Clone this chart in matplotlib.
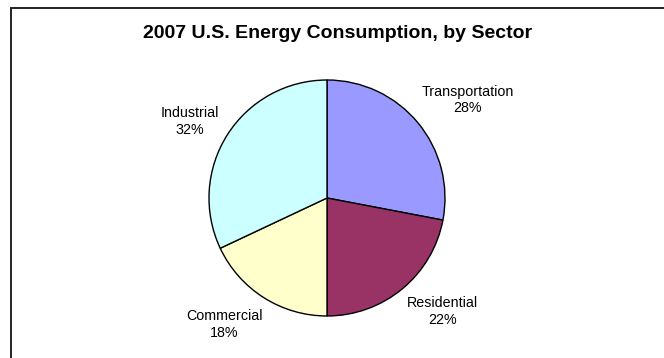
import numpy as np
import matplotlib
matplotlib.use("Agg")
import matplotlib.pyplot as plt
from matplotlib.patches import Rectangle

# data
sectors = ["Transportation", "Residential", "Commercial", "Industrial"]
shares = [28, 22, 18, 32]
colors = ["#9999FF", "#993366", "#FFFFCC", "#CCFFFF"]

# label positions relative to pie centre, in units of radius
label_pos = [(1.19, 0.83), (0.98, -0.96), (-0.87, -1.07), (-1.16, 0.65)]

plt.rcParams["font.family"] = ["Liberation Sans", "DejaVu Sans"]

W, H = 664, 358
fig = plt.figure(figsize=(W / 100, H / 100), dpi=100)
ax = fig.add_axes([0, 0, 1, 1])

cx, cy, r = 327, H - 198, 118
wedges, _ = ax.pie(shares, colors=colors, startangle=90, counterclock=False,
                   center=(cx, cy), radius=r, frame=True,
                   wedgeprops=dict(edgecolor="black", linewidth=1.0))
ax.set_xlim(0, W)
ax.set_ylim(0, H)
ax.axis("off")

for name, val, (px, py) in zip(sectors, shares, label_pos):
    ax.text(cx + px * r, cy + py * r, f"{name}\n{val}%", ha="center", va="center",
            fontsize=10.3, linespacing=1.25)

fig.text(338 / W, 1 - 34 / H, "2007 U.S. Energy Consumption, by Sector",
         ha="center", va="center", fontsize=14, fontweight="bold")

# chart area border (right and bottom run off the image)
fig.patches.append(Rectangle((11 / W, -0.1), 1.2, 1.1 - 8 / H, transform=fig.transFigure,
                             fill=False, edgecolor="#222222", linewidth=1.4))

fig.savefig("out.png", dpi=100)
